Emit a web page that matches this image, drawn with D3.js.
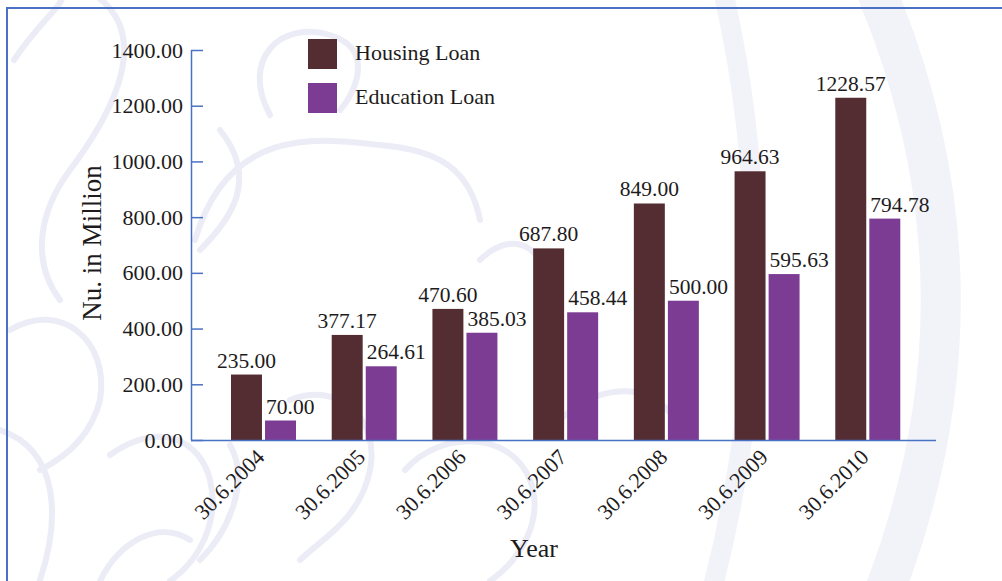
<!DOCTYPE html>
<html lang="en">
<head>
    <meta charset="UTF-8">
    <title>Housing and Education Loan</title>
    <style>
        html,body{
            margin: 0;
            padding: 0;
            background: #fff;
        }
        svg text{
            font-family: "Liberation Serif", "DejaVu Serif", serif;
            fill: #1e1b1c;
        }
    </style>
</head>
<body>
<div id="container"></div>

<script src="https://d3js.org/d3.v7.min.js"></script>
<script>
    // data
    const years = ['30.6.2004', '30.6.2005', '30.6.2006', '30.6.2007', '30.6.2008', '30.6.2009', '30.6.2010']
    const housing = [235.00, 377.17, 470.60, 687.80, 849.00, 964.63, 1228.57]
    const education = [70.00, 264.61, 385.03, 458.44, 500.00, 595.63, 794.78]
    const seriesNames = ['Housing Loan', 'Education Loan']
    const yTicks = [0, 200, 400, 600, 800, 1000, 1200, 1400]

    const [width, height] = [1002, 581]
    const colors = ['#542d32', '#7d3c93']
    const axisBlue = '#4a72c4'

    const svg = d3.select('#container').append('svg')
        .attr('width', width)
        .attr('height', height)

    // faint watermark in the background
    const wm = svg.append('g').attr('fill', 'none').attr('stroke', '#ebecf6').attr('stroke-width', 6).attr('stroke-linecap', 'round')
    wm.append('path').attr('d', 'M724,-5 Q790,290 712,590').attr('stroke', '#f2f3f9').attr('stroke-width', 20)
    wm.append('path').attr('d', 'M878,-5 Q1000,290 885,590').attr('stroke', '#f2f3f9').attr('stroke-width', 40)
    wm.append('path').attr('d', 'M14,60 C40,20 70,0 60,-5')
    wm.append('path').attr('d', 'M95,-5 C160,40 100,130 70,170 C40,210 30,260 60,300')
    wm.append('path').attr('d', 'M270,115 C240,60 280,20 330,35 C380,50 350,100 340,110')
    wm.append('path').attr('d', 'M195,240 C230,120 330,140 380,145 C440,150 470,170 480,220')
    wm.append('path').attr('d', 'M220,130 C260,180 230,220 200,250')
    wm.append('path').attr('d', 'M10,330 C60,300 110,340 100,400 C90,440 60,460 40,470')
    wm.append('path').attr('d', 'M0,430 C60,450 60,520 40,580')
    wm.append('path').attr('d', 'M110,455 C160,420 200,440 210,480 C220,520 200,560 170,581')
    wm.append('path').attr('d', 'M230,445 C250,480 230,530 200,560')
    wm.append('path').attr('d', 'M290,400 C340,380 380,420 370,470 C360,520 320,540 300,560')
    wm.append('path').attr('d', 'M405,470 C440,430 510,430 530,480 C545,520 520,560 490,581')
    wm.append('path').attr('d', 'M560,420 C600,380 660,380 680,430')
    wm.append('path').attr('d', 'M480,260 C520,220 560,260 540,310')
    wm.append('path').attr('d', 'M100,581 C120,540 160,520 190,540')

    // frame lines
    svg.append('line').attr('x1', 7).attr('x2', width).attr('y1', 8).attr('y2', 8)
        .attr('stroke', axisBlue).attr('stroke-width', 2)
    svg.append('line').attr('x1', 7).attr('x2', 7).attr('y1', 7).attr('y2', height)
        .attr('stroke', axisBlue).attr('stroke-width', 2)

    const plot = {left: 191, right: 936, top: 50, bottom: 440}

    const y = d3.scaleLinear().domain([0, 1400]).range([plot.bottom, plot.top])
    const x0 = d3.scaleBand().domain(years).range([plot.left + 22, plot.right - 18]).padding(0)
    const x1 = d3.scaleBand().domain(seriesNames).range([18, 83]).paddingInner(0.09)

    const rows = years.map((yr, i) => ({year: yr, values: [housing[i], education[i]]}))

    // bars
    const groups = svg.append('g').selectAll('g').data(rows).join('g')
        .attr('transform', d => `translate(${x0(d.year)},0)`)

    groups.selectAll('rect').data(d => d.values.map((v, k) => ({key: seriesNames[k], v, k})))
        .join('rect')
        .attr('x', d => x1(d.key))
        .attr('y', d => y(d.v))
        .attr('width', x1.bandwidth())
        .attr('height', d => y(0) - y(d.v))
        .attr('fill', d => colors[d.k])

    // housing labels sit centred, education labels start at the bar's left edge
    groups.selectAll('text.val').data(d => d.values.map((v, k) => ({key: seriesNames[k], v, k})))
        .join('text')
        .attr('class', 'val')
        .attr('x', d => d.k === 0 ? x1(d.key) + x1.bandwidth() / 2 : x1(d.key) + 1)
        .attr('y', d => y(d.v) - 7)
        .attr('text-anchor', d => d.k === 0 ? 'middle' : 'start')
        .attr('font-size', 21.5)
        .text(d => d.v.toFixed(2))

    // y axis
    const yAxis = svg.append('g')
        .attr('transform', `translate(${plot.left},0)`)
        .call(d3.axisRight(y).tickValues(yTicks).tickSize(12).tickFormat(d => d.toFixed(2)))
    yAxis.select('.domain').attr('stroke', axisBlue).attr('stroke-width', 1.5).attr('d', `M0.5,${plot.top}V${plot.bottom}`)
    yAxis.selectAll('.tick line').attr('stroke', axisBlue).attr('stroke-width', 1.5)
    yAxis.selectAll('.tick text')
        .attr('x', -8)
        .attr('text-anchor', 'end')
        .attr('dy', '0.32em')
        .attr('font-size', 22)
        .attr('fill', '#1e1b1c')
        .style('font-family', '"Liberation Serif", serif')

    // x axis
    const xAxis = svg.append('g')
        .attr('transform', `translate(0,${plot.bottom})`)
        .call(d3.axisBottom(x0).tickSize(0).tickFormat(d => d))
    xAxis.select('.domain').attr('stroke', axisBlue).attr('stroke-width', 1.5).attr('d', `M${plot.left},0.5H${plot.right}`)
    xAxis.selectAll('.tick text')
        .attr('text-anchor', 'end')
        .attr('font-size', 22)
        .attr('fill', '#1e1b1c')
        .style('font-family', '"Liberation Serif", serif')
        .attr('transform', 'translate(-3,13) rotate(-45)')
        .attr('y', 0)
        .attr('dy', '0.35em')

    // axis titles
    svg.append('text')
        .attr('transform', `translate(101,243) rotate(-90)`)
        .attr('text-anchor', 'middle')
        .attr('font-size', 27)
        .text('Nu. in Million')
    svg.append('text')
        .attr('x', 534)
        .attr('y', 557)
        .attr('text-anchor', 'middle')
        .attr('font-size', 26)
        .text('Year')

    // legend
    const legend = svg.append('g').selectAll('g').data(seriesNames).join('g')
        .attr('transform', (d, i) => `translate(308,${39 + i * 44})`)
    legend.append('rect').attr('width', 29).attr('height', 30).attr('fill', (d, i) => colors[i])
    legend.append('text').attr('x', 47).attr('y', 21).attr('font-size', 22).text(d => d)
</script>
</body>
</html>
